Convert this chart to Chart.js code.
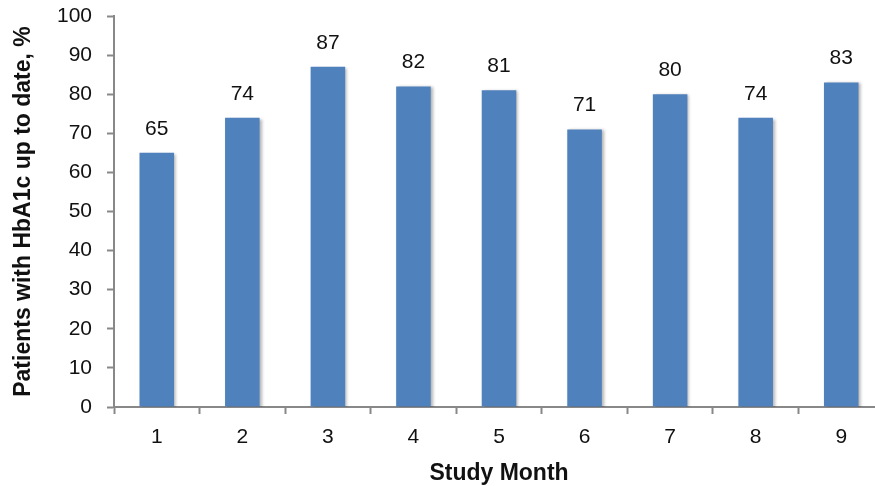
<!DOCTYPE html>
<html>
<head>
<meta charset="utf-8">
<script src="https://cdn.jsdelivr.net/npm/chart.js@4/dist/chart.umd.min.js"></script>
<style>
  html, body { margin: 0; padding: 0; background: #fff; overflow: hidden; }
  #wrap { width: 884px; height: 486px; position: relative; }
</style>
</head>
<body>
<div id="wrap"><canvas id="chart"></canvas></div>
<script>
// Study months and share of patients with an up-to-date HbA1c (%)
const months = ['1', '2', '3', '4', '5', '6', '7', '8', '9'];
const upToDatePct = [65, 74, 87, 82, 81, 71, 80, 74, 83];
const yTicks = [0, 10, 20, 30, 40, 50, 60, 70, 80, 90, 100];

const FONT = "'Liberation Sans', Arial, Helvetica, sans-serif";
const AXIS_GREY = '#888888';
const BAR_BLUE = '#4F81BD';

// Soft drop shadow under the bars, then value labels above each bar
const barDecor = {
  id: 'barDecor',
  beforeDatasetsDraw(chart) {
    const ctx = chart.ctx;
    ctx.save();
    ctx.shadowColor = 'rgba(0,0,0,0.30)';
    ctx.shadowBlur = 3;
    ctx.shadowOffsetX = 2;
    ctx.shadowOffsetY = 1;
  },
  afterDatasetsDraw(chart) {
    const ctx = chart.ctx;
    ctx.restore();
    ctx.save();
    ctx.font = '21px ' + FONT;
    ctx.fillStyle = '#111';
    ctx.textAlign = 'center';
    ctx.textBaseline = 'alphabetic';
    const meta = chart.getDatasetMeta(0);
    meta.data.forEach((bar, i) => {
      const v = chart.data.datasets[0].data[i];
      ctx.fillText(String(v), bar.x, bar.y - 18);
    });
    ctx.restore();
  }
};

new Chart(document.getElementById('chart'), {
  type: 'bar',
  data: {
    labels: months,
    datasets: [{
      data: upToDatePct,
      backgroundColor: BAR_BLUE,
      borderWidth: 0,
      barPercentage: 0.404,
      categoryPercentage: 1.0
    }]
  },
  options: {
    responsive: true,
    maintainAspectRatio: false,
    animation: false,
    layout: { padding: { top: 16, right: 0, bottom: 0, left: 0 } },
    plugins: {
      legend: { display: false },
      tooltip: { enabled: false }
    },
    scales: {
      x: {
        offset: true,
        grid: {
          display: true,
          drawOnChartArea: false,
          drawTicks: true,
          tickLength: 7,
          tickWidth: 2,
          tickColor: AXIS_GREY,
          offset: true
        },
        border: { display: true, color: AXIS_GREY, width: 2 },
        ticks: {
          color: '#111',
          font: { family: FONT, size: 21 },
          padding: 11,
          maxRotation: 0
        },
        title: {
          display: true,
          text: 'Study Month',
          color: '#111',
          font: { family: FONT, size: 23, weight: 'bold' },
          padding: { top: 0, bottom: -1 }
        },
        afterFit(scale) { scale.height = 79; }
      },
      y: {
        min: 0,
        max: 100,
        afterBuildTicks(scale) {
          scale.ticks = yTicks.map(v => ({ value: v }));
        },
        grid: {
          display: true,
          drawOnChartArea: false,
          drawTicks: true,
          tickLength: 7,
          tickWidth: 2,
          tickColor: AXIS_GREY
        },
        border: { display: true, color: AXIS_GREY, width: 2 },
        ticks: {
          color: '#111',
          font: { family: FONT, size: 21 },
          padding: 15
        },
        title: {
          display: true,
          text: 'Patients with HbA1c up to date, %',
          color: '#111',
          font: { family: FONT, size: 23, weight: 'bold' },
          padding: { top: 10, bottom: 0 }
        },
        afterFit(scale) {
          scale.width = 114;
          scale.paddingTop = 0;
          scale.paddingBottom = 0;
        }
      }
    }
  },
  plugins: [barDecor]
});
</script>
</body>
</html>
